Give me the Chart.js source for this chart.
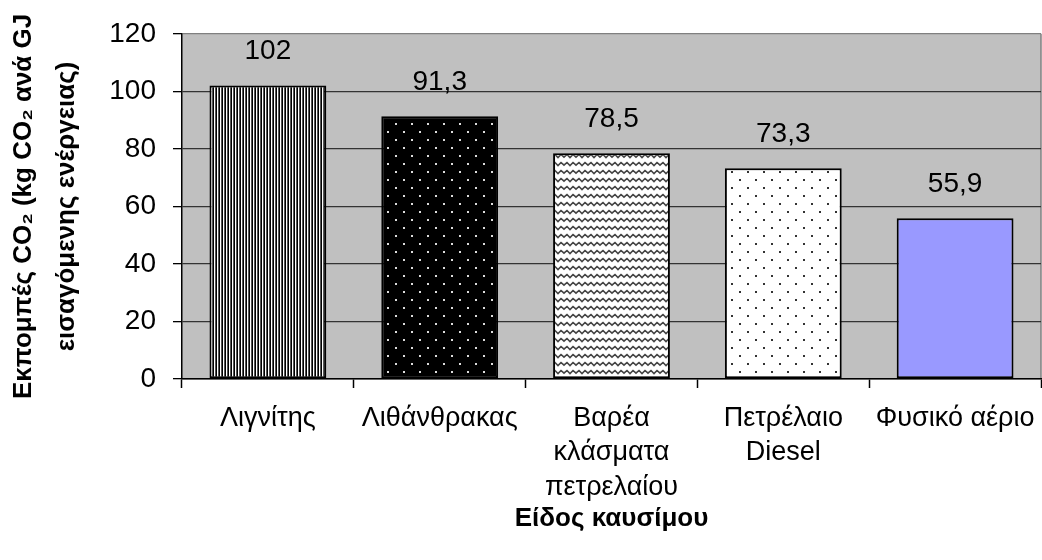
<!DOCTYPE html>
<html>
<head>
<meta charset="utf-8">
<script src="https://cdn.jsdelivr.net/npm/chart.js@4/dist/chart.umd.min.js"></script>
<style>
  html, body { margin: 0; padding: 0; background: #fff; }
  #wrap { width: 1042px; height: 560px; position: relative; }
</style>
</head>
<body>
<div id="wrap"><canvas id="chart"></canvas></div>
<script>
const categories = [
  'Λιγνίτης',
  'Λιθάνθρακας',
  ['Βαρέα', 'κλάσματα', 'πετρελαίου'],
  ['Πετρέλαιο', 'Diesel'],
  'Φυσικό αέριο'
];
const emissions = [102, 91.3, 78.5, 73.3, 55.9];
const yTicks = [0, 20, 40, 60, 80, 100, 120];

const FONT = "'Liberation Sans', Arial, sans-serif";

// little canvas patterns like the old excel fills
const makePattern = (w, h, paint) => {
  const c = document.createElement('canvas');
  c.width = w;
  c.height = h;
  const g = c.getContext('2d');
  paint(g);
  return g.createPattern(c, 'repeat');
};

const stripes = makePattern(3, 4, (g) => {
  g.fillStyle = '#000'; g.fillRect(0, 0, 1, 4);
  g.fillStyle = '#fff'; g.fillRect(1, 0, 1, 4);
  g.fillStyle = '#555'; g.fillRect(2, 0, 1, 4);
});

const dotsOnBlack = makePattern(16, 16, (g) => {
  g.fillStyle = '#000'; g.fillRect(0, 0, 16, 16);
  g.fillStyle = '#ddd';
  g.fillRect(3, 3, 2, 2);
  g.fillRect(11, 11, 2, 2);
});

const waves = makePattern(12, 8, (g) => {
  g.fillStyle = '#fff'; g.fillRect(0, 0, 12, 8);
  g.strokeStyle = '#444';
  g.lineWidth = 1.6;
  g.beginPath();
  g.moveTo(-1, 6);
  g.lineTo(3, 2.5);
  g.lineTo(6, 5.5);
  g.lineTo(9, 2.5);
  g.lineTo(13, 6);
  g.stroke();
});

const dotsOnWhite = makePattern(16, 16, (g) => {
  g.fillStyle = '#fff'; g.fillRect(0, 0, 16, 16);
  g.fillStyle = '#333';
  g.fillRect(3, 3, 2, 2);
  g.fillRect(11, 11, 2, 2);
});

const barFills = [stripes, dotsOnBlack, waves, dotsOnWhite, '#9999FF'];

const plotBackground = {
  id: 'plotBackground',
  beforeDraw(chart) {
    const {ctx, chartArea: a} = chart;
    ctx.save();
    ctx.fillStyle = '#C0C0C0';
    ctx.fillRect(a.left, a.top, a.right - a.left, a.bottom - a.top);
    ctx.strokeStyle = '#808080';
    ctx.lineWidth = 1.5;
    ctx.beginPath();
    ctx.moveTo(a.right, a.top);
    ctx.lineTo(a.right, a.bottom);
    ctx.stroke();
    ctx.restore();
  }
};

const valueLabels = {
  id: 'valueLabels',
  afterDatasetsDraw(chart) {
    const {ctx} = chart;
    const meta = chart.getDatasetMeta(0);
    ctx.save();
    ctx.font = '28px ' + FONT;
    ctx.fillStyle = '#000';
    ctx.textAlign = 'center';
    ctx.textBaseline = 'middle';
    meta.data.forEach((bar, i) => {
      const txt = String(emissions[i]).replace('.', ',');
      ctx.fillText(txt, bar.x, bar.y - 34);
    });
    ctx.restore();
  }
};

new Chart(document.getElementById('chart'), {
  type: 'bar',
  data: {
    labels: categories,
    datasets: [{
      data: emissions,
      backgroundColor: barFills,
      borderColor: '#000',
      borderWidth: 2,
      borderSkipped: false,
      categoryPercentage: 1,
      barPercentage: 0.68
    }]
  },
  options: {
    responsive: true,
    maintainAspectRatio: false,
    animation: false,
    layout: { padding: { top: 28, right: 1, left: 0, bottom: 0 } },
    plugins: {
      legend: { display: false },
      tooltip: { enabled: false }
    },
    scales: {
      x: {
        afterFit: (s) => {
          s.height = 181;
          s.paddingLeft = 0;
          s.paddingRight = 0;
        },
        border: { color: '#000', width: 1.5 },
        grid: {
          drawOnChartArea: false,
          tickLength: 9,
          tickColor: '#000',
          tickWidth: 1.5
        },
        ticks: {
          color: '#000',
          padding: 14,
          maxRotation: 0,
          autoSkip: false,
          font: { family: FONT, size: 27, lineHeight: 1.26 }
        },
        title: {
          display: true,
          text: 'Είδος καυσίμου',
          color: '#000',
          padding: { top: 0, bottom: 26 },
          font: { family: FONT, size: 26, weight: 'bold' }
        }
      },
      y: {
        min: 0,
        max: 120,
        afterFit: (s) => { s.width = 182; },
        afterBuildTicks: (s) => { s.ticks = yTicks.map((v) => ({value: v})); },
        border: { color: '#000', width: 1.5 },
        grid: {
          color: (c) => (c.tick && c.tick.value === 120 ? '#808080' : '#333'),
          lineWidth: 1.3,
          tickLength: 9,
          tickColor: '#000'
        },
        ticks: {
          color: '#000',
          padding: 17,
          font: { family: FONT, size: 28 }
        },
        title: {
          display: true,
          text: ['Εκπομπές CO₂ (kg CO₂ ανά GJ', 'εισαγόμενης ενέργειας)'],
          color: '#000',
          padding: { top: 2, bottom: 0 },
          font: { family: FONT, size: 26, weight: 'bold', lineHeight: 1.65 }
        }
      }
    }
  },
  plugins: [plotBackground, valueLabels]
});
</script>
</body>
</html>
